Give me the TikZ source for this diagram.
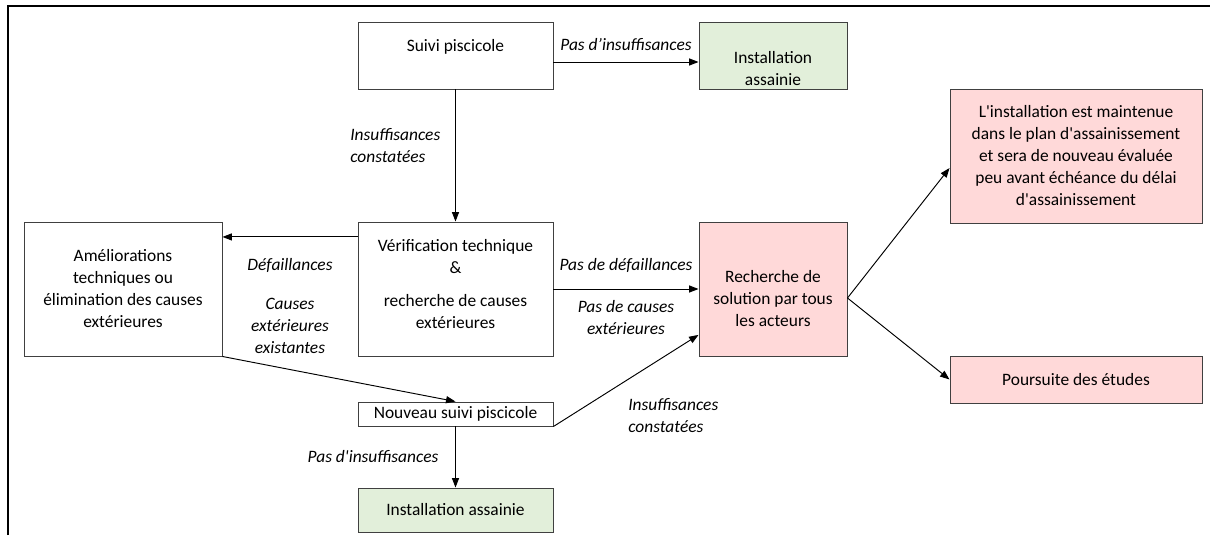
\documentclass[tikz,border=0pt]{standalone}
\usepackage{fontspec}
\setmainfont{Carlito}
\usetikzlibrary{arrows.meta}
\newcommand{\upx}{0.632pt}
\newcommand{\sq}{\textquotesingle}
\definecolor{vert}{RGB}{226,239,218}
\definecolor{rose}{RGB}{255,217,217}
\definecolor{bord}{RGB}{64,64,64}
\begin{document}
\begin{tikzpicture}[x=\upx,y=-\upx,font=\fontsize{11}{13.9}\selectfont,
  box/.style 2 args={draw=bord,line width=.6pt,align=center,minimum width=#1*\upx,minimum height=#2*\upx},
  lbl/.style={font=\fontsize{11}{13.9}\selectfont\itshape,align=center,inner sep=0pt},
  arr/.style={line width=.6pt,-{Triangle[length=6pt,width=4.5pt]}}]
\useasboundingbox (0,0) rectangle (1210,535);
\draw[line width=1.6pt] (8,535)--(8,6)--(1210,6);
\node[box={195}{67},text height=18.7pt,text depth=23.6pt,inner ysep=0pt] (suivi) at (455.5,55.5) {Suivi piscicole};
\node[box={148}{67},fill=vert,text height=40.2pt,text depth=2.1pt,inner ysep=0pt] (inst1) at (773,55.5) {Installation\\assainie};
\node[box={195}{134},text height=67.4pt,text depth=17.3pt,inner ysep=0pt] (verif) at (455.5,289) {Vérification technique\\\&\\[7pt]recherche de causes\\extérieures};
\node[box={198}{134}] (amel) at (123,289) {Améliorations\\techniques ou\\élimination des causes\\extérieures};
\node[box={148}{134},fill=rose,text height=66.1pt,text depth=18.6pt,inner ysep=0pt] (rech) at (773,289) {Recherche de\\solution par tous\\les acteurs};
\node[box={195}{24},inner ysep=1pt] (nouv) at (455.5,414) {Nouveau suivi piscicole};
\node[box={195}{44},fill=vert] (inst2) at (455.5,510) {Installation assainie};
\node[box={252}{134},fill=rose] (maint) at (1076,156) {L\sq installation est maintenue\\dans le plan d\sq assainissement\\et sera de nouveau évaluée\\peu avant échéance du délai\\d\sq assainissement};
\node[box={252}{47},fill=rose] (pours) at (1076,379.5) {Poursuite des études};
\node[lbl] (pasinsuf) at (626,45) {Pas d’insuffisances};
\node[lbl,anchor=west,align=left] (insuf) at (350,146) {Insuffisances\\constatées};
\node[lbl] (defail) at (290,265) {Défaillances};
\node[lbl] (causes) at (290,326) {Causes\\extérieures\\existantes};
\node[lbl] (pasdefail) at (626,265) {Pas de défaillances};
\node[lbl] (pascauses) at (626,318) {Pas de causes\\extérieures};
\node[lbl,anchor=west,align=left] (insufbis) at (628,415.5) {Insuffisances\\constatées};
\node[lbl] (pasinsufbis) at (373,457) {Pas d\sq insuffisances};
\draw[arr] ([yshift=-4.1pt]suivi.east)--([yshift=-4.1pt]inst1.west);
\draw[arr] (suivi)--(verif);
\draw[arr] ([yshift=32.9pt]verif.west)--([yshift=32.9pt]amel.east);
\draw[arr] (verif)--(rech);
\draw[arr] (amel.south east)--(nouv.north);
\draw[arr] (nouv)--(inst2);
\draw[arr] (nouv.south east)--([yshift=-29pt]rech.west);
\draw[arr] ([yshift=-5.7pt]rech.east)--([yshift=-7.6pt]maint.west);
\draw[arr] ([yshift=-5.7pt]rech.east)--(pours.west);
\end{tikzpicture}
\end{document}
